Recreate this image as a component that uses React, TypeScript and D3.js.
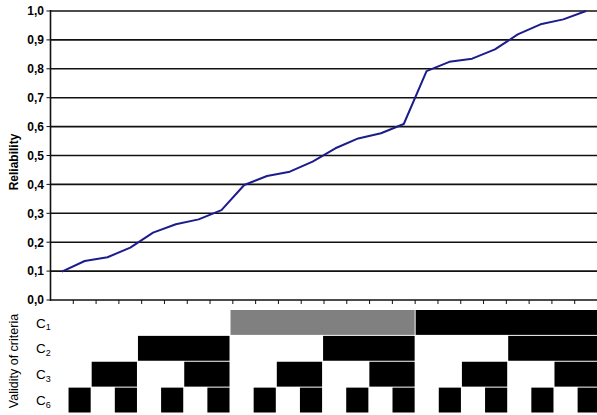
import React from "react";
import * as d3 from "d3";

const categories = d3.range(24).map((i) => `S${i + 1}`);
const reliability = [
  0.098, 0.135, 0.148, 0.181, 0.233, 0.262, 0.279, 0.311,
  0.398, 0.429, 0.444, 0.479, 0.525, 0.559, 0.577, 0.609,
  0.792, 0.824, 0.835, 0.867, 0.919, 0.954, 0.971, 1.0,
];
const yTicks = [0, 0.1, 0.2, 0.3, 0.4, 0.5, 0.6, 0.7, 0.8, 0.9, 1.0];
const criteriaRows = ["1", "2", "3", "6"];
// 0 = white, 1 = grey, 2 = black
const validityC1 = [0, 0, 0, 0, 0, 0, 0, 0, 1, 1, 1, 1, 1, 1, 1, 1, 2, 2, 2, 2, 2, 2, 2, 2];
const validityC2 = [0, 0, 0, 0, 2, 2, 2, 2, 0, 0, 0, 0, 2, 2, 2, 2, 0, 0, 0, 0, 2, 2, 2, 2];
const validityC3 = [0, 0, 2, 2, 0, 0, 2, 2, 0, 0, 2, 2, 0, 0, 2, 2, 0, 0, 2, 2, 0, 0, 2, 2];
const validityC6 = [0, 2, 0, 2, 0, 2, 0, 2, 0, 2, 0, 2, 0, 2, 0, 2, 0, 2, 0, 2, 0, 2, 0, 2];
const validity = [validityC1, validityC2, validityC3, validityC6];

const W = 597;
const H = 415;
const font = "'Liberation Sans', Arial, sans-serif";

export default function App() {
  const x = d3.scaleBand<string>().domain(categories).range([50.5, 597.5]);
  const y = d3.scaleLinear().domain([0, 1]).range([300, 11]);
  const gx = d3.scaleBand<string>().domain(categories).range([44.9, 44.9 + 24 * 23.14]);
  const gy = d3.scaleBand<string>().domain(criteriaRows).range([309.5, 413]);

  const line = d3
    .line<number>()
    .x((_, i) => (x(categories[i]) as number) + x.bandwidth() / 2)
    .y((d) => y(d));

  const fills = ["none", "#808080", "#000000"];

  const runs: { row: number; start: number; end: number; level: number }[] = [];
  validity.forEach((vals, r) => {
    let s = 0;
    for (let i = 1; i <= vals.length; i++) {
      if (i === vals.length || vals[i] !== vals[s]) {
        if (vals[s] !== 0) runs.push({ row: r, start: s, end: i - 1, level: vals[s] });
        s = i;
      }
    }
  });

  const x0 = 50.5;
  const xEnd = 597;

  return (
    <div style={{ position: "fixed", left: 0, top: 0 }}>
      <svg width={W} height={H} style={{ display: "block", background: "#fff" }}>
        {yTicks.filter((t) => t > 0).map((t) => (
          <line key={t} x1={x0} x2={xEnd} y1={y(t)} y2={y(t)} stroke="#111" strokeWidth={1.6} />
        ))}
        {yTicks.map((t) => (
          <line key={"yt" + t} x1={x0 - 4} x2={x0} y1={y(t)} y2={y(t)} stroke="#111" strokeWidth={1} />
        ))}
        {yTicks.map((t) => (
          <text
            key={"yl" + t}
            x={44}
            y={y(t)}
            dy="0.36em"
            textAnchor="end"
            fontFamily={font}
            fontWeight="bold"
            fontSize={12}
            fill="#000"
          >
            {t.toFixed(1).replace(".", ",")}
          </text>
        ))}
        {categories.map((c) => (
          <line
            key={"xt" + c}
            x1={(x(c) as number) + x.bandwidth()}
            x2={(x(c) as number) + x.bandwidth()}
            y1={300}
            y2={304}
            stroke="#111"
            strokeWidth={1}
          />
        ))}
        <line x1={x0} x2={xEnd} y1={300} y2={300} stroke="#111" strokeWidth={1.6} />
        <line x1={x0} x2={x0} y1={10} y2={301} stroke="#111" strokeWidth={1.6} />
        <path d={line(reliability) || ""} fill="none" stroke="#1c1c8c" strokeWidth={2} strokeLinejoin="round" />
        <text
          transform={`translate(17.5,162) rotate(-90)`}
          textAnchor="middle"
          fontFamily={font}
          fontWeight="bold"
          fontSize={12}
          fill="#000"
        >
          Reliability
        </text>
        {runs.map((r, k) => {
          const xs = gx(categories[r.start]) as number;
          const xe = (gx(categories[r.end]) as number) + gx.bandwidth();
          const ys = gy(criteriaRows[r.row]) as number;
          return (
            <rect
              key={k}
              x={xs + 0.5}
              y={ys + 0.5}
              width={xe - xs - 1}
              height={gy.bandwidth() - 1}
              fill={fills[r.level]}
            />
          );
        })}
        {criteriaRows.map((r) => (
          <text
            key={"rl" + r}
            x={36}
            y={(gy(r) as number) + gy.bandwidth() / 2}
            dy="0.38em"
            fontFamily={font}
            fontSize={13.5}
            fill="#000"
          >
            C
            <tspan fontSize={9} dy={2.5}>
              {r}
            </tspan>
          </text>
        ))}
        <text
          transform={`translate(17.5,361) rotate(-90)`}
          textAnchor="middle"
          fontFamily={font}
          fontSize={12.5}
          fill="#000"
        >
          Validity of criteria
        </text>
      </svg>
    </div>
  );
}
